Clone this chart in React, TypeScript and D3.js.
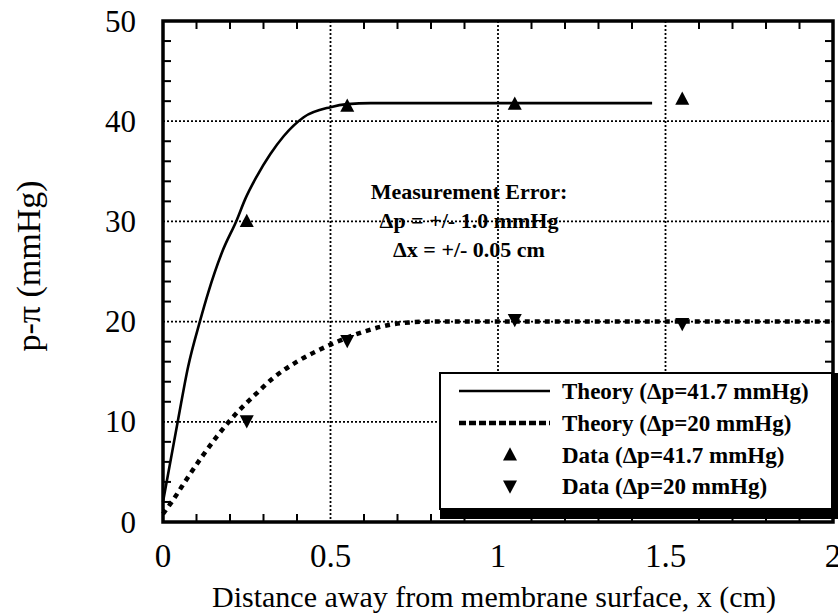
import React from "react";
import * as d3 from "d3";

const theoryHighX = [0, 0.045, 0.075, 0.11, 0.135, 0.176, 0.221, 0.245, 0.28, 0.32, 0.36, 0.42, 0.5, 0.55, 0.62, 1.0, 1.46];
const theoryHighY = [2.0, 10.2, 15.5, 20.0, 22.9, 26.9, 30.2, 32.2, 34.5, 36.7, 38.5, 40.4, 41.4, 41.7, 41.8, 41.8, 41.8];

const theoryLowX = [0, 0.03, 0.075, 0.116, 0.16, 0.215, 0.275, 0.33, 0.4, 0.5, 0.6, 0.7, 0.8, 1.0, 1.5, 2.0];
const theoryLowY = [0.8, 2.2, 4.5, 6.5, 8.5, 10.7, 12.7, 14.4, 16.0, 17.7, 19.0, 19.8, 20.0, 20.0, 20.0, 20.0];

const dataHighX = [0.25, 0.55, 1.05, 1.55];
const dataHighY = [30, 41.5, 41.7, 42.2];
const dataLowX = [0.25, 0.55, 1.05, 1.55];
const dataLowY = [10.1, 18.1, 20.2, 19.8];

const xTicks = [0, 0.5, 1, 1.5, 2];
const xTickLabels = ["0", "0.5", "1", "1.5", "2"];
const yTicks = [0, 10, 20, 30, 40, 50];

const legendLabels = [
  "Theory (\u0394p=41.7 mmHg)",
  "Theory (\u0394p=20 mmHg)",
  "Data (\u0394p=41.7 mmHg)",
  "Data (\u0394p=20 mmHg)",
];
const noteLines = ["Measurement Error:", "\u0394p = +/- 1.0 mmHg", "\u0394x = +/- 0.05 cm"];

const FONT = "'Liberation Serif', 'Times New Roman', serif";

export default function App() {
  const W = 838, H = 615;
  const L = 163, R = 833, T = 21, B = 522;
  const x = d3.scaleLinear().domain([0, 2]).range([L, R]);
  const y = d3.scaleLinear().domain([0, 50]).range([B, T]);

  const line = d3.line<[number, number]>().x(d => x(d[0])).y(d => y(d[1])).curve(d3.curveMonotoneX);
  const hi = line(theoryHighX.map((v, i) => [v, theoryHighY[i]] as [number, number])) || "";
  const lo = line(theoryLowX.map((v, i) => [v, theoryLowY[i]] as [number, number])) || "";

  const triUp = (cx: number, cy: number, s = 14) =>
    `M${cx},${cy - s * 0.55}L${cx + s / 2},${cy + s * 0.4}L${cx - s / 2},${cy + s * 0.4}Z`;
  const triDown = (cx: number, cy: number, s = 14) =>
    `M${cx},${cy + s * 0.55}L${cx + s / 2},${cy - s * 0.4}L${cx - s / 2},${cy - s * 0.4}Z`;

  const minorX = d3.range(1, 20).map(i => i / 10).filter(v => Math.abs(v * 2 - Math.round(v * 2)) > 1e-6);
  const minorY = d3.range(1, 25).map(i => i * 2).filter(v => v % 10 !== 0);

  const gridX = [0.5, 1, 1.5];
  const gridY = [10, 20, 30, 40];

  const legX = 440, legY = 373, legW = 392, legH = 136;
  const rowY = [391, 423, 455, 486];

  return (
    <svg width={W} height={H} style={{ position: "absolute", left: 0, top: 0, background: "#fff" }} fontFamily={FONT}>
      <rect x={0} y={0} width={W} height={H} fill="#fff" />
      {gridX.map(v => (
        <line key={"gx" + v} x1={x(v)} x2={x(v)} y1={T} y2={B} stroke="#000" strokeWidth={1.8} strokeDasharray="2,2" />
      ))}
      {gridY.map(v => (
        <line key={"gy" + v} x1={L} x2={R} y1={y(v)} y2={y(v)} stroke="#000" strokeWidth={1.8} strokeDasharray="2,2" />
      ))}
      {minorX.map(v => (
        <g key={"mx" + v}>
          <line x1={x(v)} x2={x(v)} y1={B} y2={B - 8} stroke="#000" strokeWidth={2} />
          <line x1={x(v)} x2={x(v)} y1={T} y2={T + 8} stroke="#000" strokeWidth={2} />
        </g>
      ))}
      {minorY.map(v => (
        <g key={"my" + v}>
          <line x1={L} x2={L + 8} y1={y(v)} y2={y(v)} stroke="#000" strokeWidth={2} />
          <line x1={R} x2={R - 8} y1={y(v)} y2={y(v)} stroke="#000" strokeWidth={2} />
        </g>
      ))}
      {noteLines.map((t, i) => (
        <text key={"n" + i} x={469} y={191 + i * 29} textAnchor="middle" dominantBaseline="central" fontSize={22} fontWeight="bold">
          {t}
        </text>
      ))}
      <path d={hi} fill="none" stroke="#000" strokeWidth={2.6} />
      <path d={lo} fill="none" stroke="#000" strokeWidth={4.5} strokeDasharray="5,5" />
      {dataHighX.map((v, i) => (
        <path key={"du" + i} d={triUp(x(v), y(dataHighY[i]))} fill="#000" />
      ))}
      {dataLowX.map((v, i) => (
        <path key={"dd" + i} d={triDown(x(v), y(dataLowY[i]))} fill="#000" />
      ))}
      <rect x={L} y={T} width={R - L} height={B - T} fill="none" stroke="#000" strokeWidth={3.5} />
      <rect x={legX} y={legY} width={legW} height={legH} fill="#fff" stroke="#000" strokeWidth={2} />
      <line x1={legX} x2={W} y1={legY + legH + 5} y2={legY + legH + 5} stroke="#000" strokeWidth={10} />
      <line x1={legX + legW + 3} x2={legX + legW + 3} y1={legY} y2={legY + legH + 9} stroke="#000" strokeWidth={7} />
      <line x1={459} x2={550} y1={rowY[0]} y2={rowY[0]} stroke="#000" strokeWidth={2.6} />
      <line x1={459} x2={550} y1={rowY[1]} y2={rowY[1]} stroke="#000" strokeWidth={4.5} strokeDasharray="7,3" />
      <path d={triUp(510, rowY[2])} fill="#000" />
      <path d={triDown(510, rowY[3])} fill="#000" />
      {legendLabels.map((t, i) => (
        <text key={"l" + i} x={562} y={rowY[i]} dominantBaseline="central" fontSize={23} fontWeight="bold">
          {t}
        </text>
      ))}
      {yTicks.map(v => (
        <text key={"yt" + v} x={136} y={y(v)} textAnchor="end" dominantBaseline="central" fontSize={31}>
          {v}
        </text>
      ))}
      {xTicks.map((v, i) => (
        <text key={"xt" + v} x={x(v)} y={556} textAnchor="middle" dominantBaseline="central" fontSize={33}>
          {xTickLabels[i]}
        </text>
      ))}
      <text x={494} y={596} textAnchor="middle" dominantBaseline="central" fontSize={30}>
        Distance away from membrane surface, x (cm)
      </text>
      <text transform={`translate(28,266) rotate(-90)`} textAnchor="middle" dominantBaseline="central" fontSize={34}>
        p-{"\u03C0"} (mmHg)
      </text>
    </svg>
  );
}
